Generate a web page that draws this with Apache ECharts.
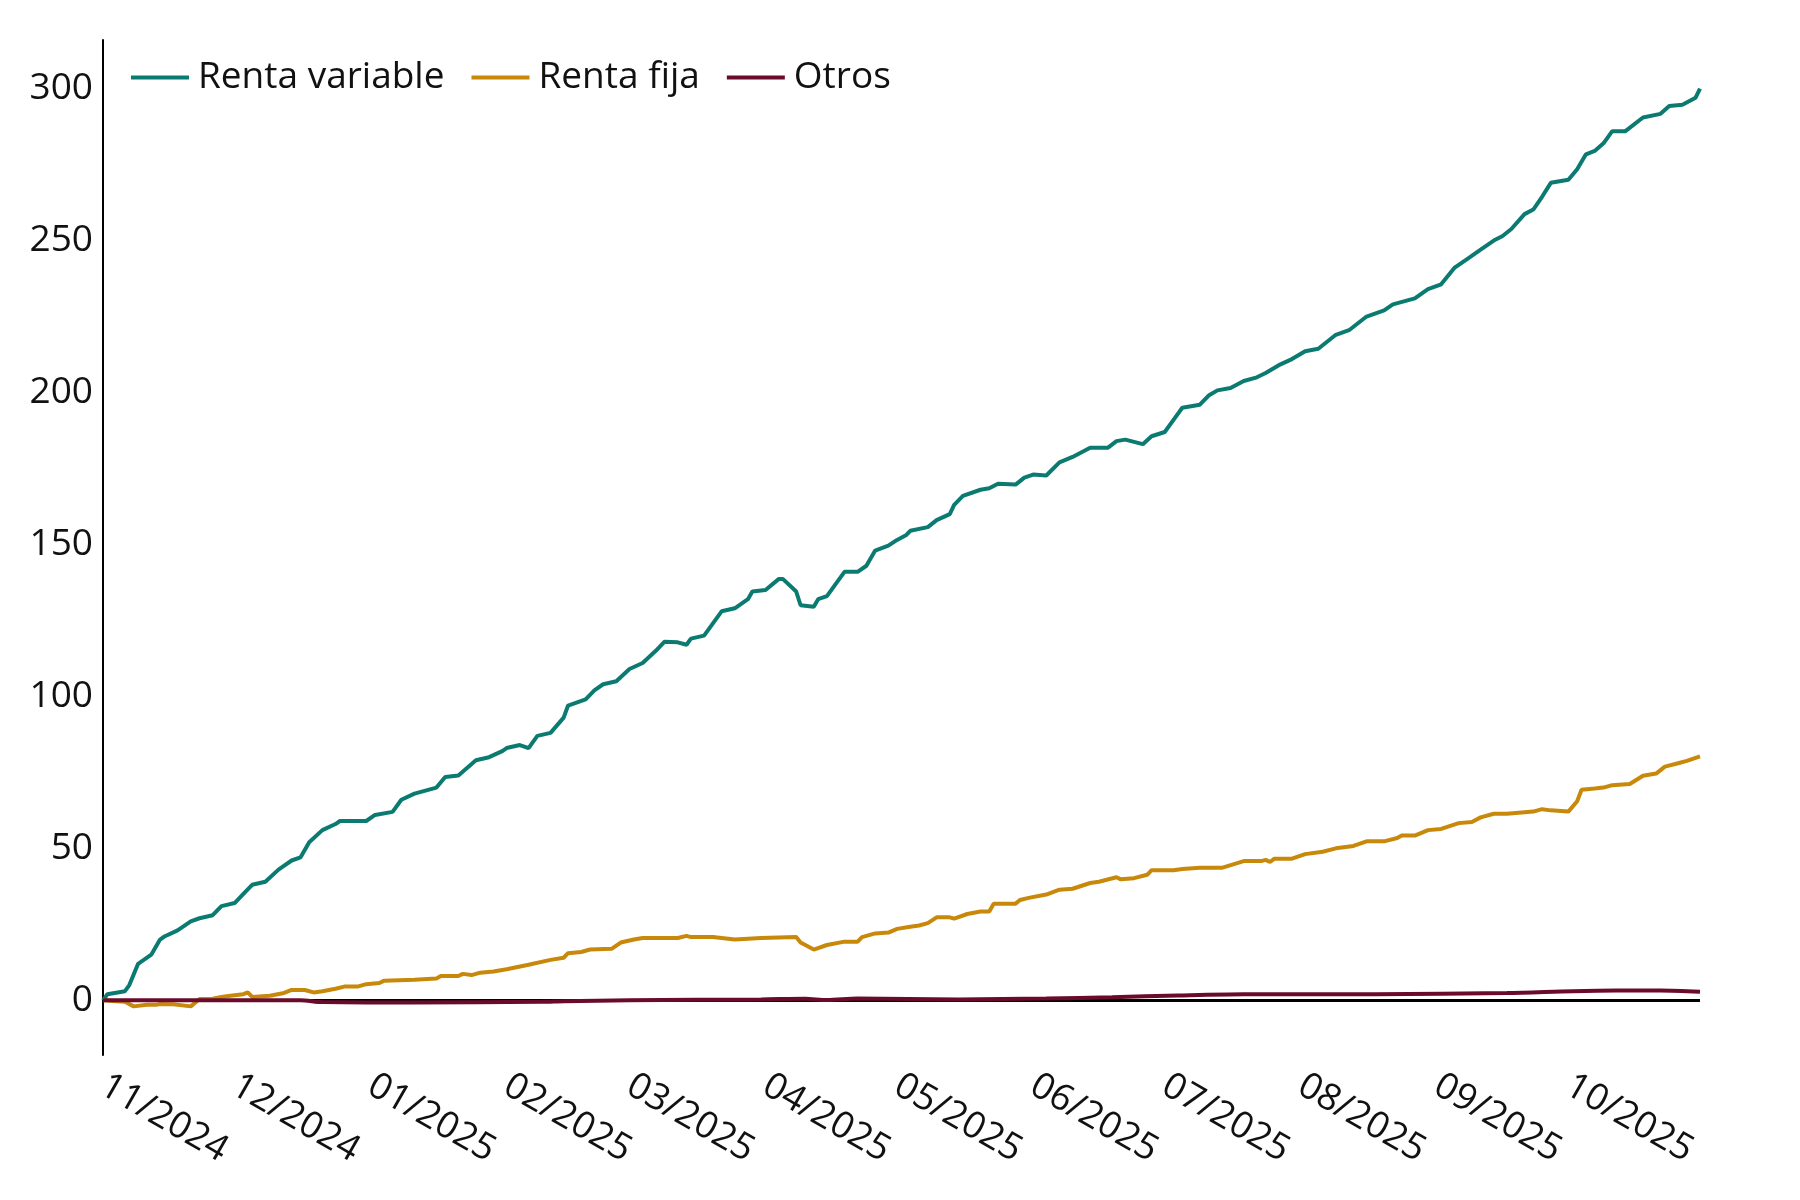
<!DOCTYPE html>
<html>
<head>
<meta charset="utf-8">
<title>Renta variable / Renta fija / Otros</title>
<script src="https://cdn.jsdelivr.net/npm/echarts@6/dist/echarts.min.js"></script>
<style>
  html, body { margin: 0; padding: 0; background: #fff; }
  #chart { width: 1800px; height: 1200px; }
</style>
</head>
<body>
<div id="chart"></div>
<script>
// Series names
var seriesNames = ['Renta variable', 'Renta fija', 'Otros'];

// Points as [days since 01/11/2024, value]
var rentaVariable = [
  [0, 0], [1, 2], [5, 3], [6, 5], [8, 12], [11, 15], [13, 20], [14, 21], [17, 23],
  [20, 26], [22, 27], [25, 28], [27, 31], [30, 32], [32, 35], [34, 38], [37, 39],
  [40, 43], [43, 46], [45, 47], [47, 52], [50, 56], [53, 58], [54, 59], [60, 59],
  [62, 61], [66, 62], [68, 66], [71, 68], [76, 70], [78, 73.5], [81, 74], [85, 79],
  [88, 80], [91, 82], [92, 83], [95, 84], [97, 83], [99, 87], [102, 88], [105, 93],
  [106, 97], [110, 99], [112, 102], [114, 104], [117, 105], [120, 109], [123, 111],
  [126, 115], [128, 118], [131, 117.8], [133, 117], [134, 119], [137, 120], [141, 128],
  [144, 129], [147, 132], [148, 134.5], [151, 135], [154, 138.6], [155, 138.6],
  [158, 134.5], [159, 130], [162, 129.5], [163, 132], [165, 133], [169, 141], [172, 141],
  [174, 143], [176, 148], [179, 149.6], [181, 151.5], [183, 153], [184, 154.5],
  [188, 155.7], [190, 158], [193, 160], [194, 163], [196, 166], [200, 168], [202, 168.5],
  [204, 170], [208, 169.7], [210, 172], [212, 173], [215, 172.7], [218, 177], [221, 178.8],
  [225, 181.8], [229, 181.8], [231, 184], [233, 184.5], [237, 183], [239, 185.6],
  [242, 187], [244, 191], [246, 195], [250, 196], [252, 199], [254, 200.7], [257, 201.5],
  [260, 203.8], [263, 205], [265, 206.4], [268, 209], [271, 211], [274, 213.6],
  [277, 214.4], [281, 219], [284, 220.5], [288, 225], [292, 227], [294, 229], [299, 231],
  [302, 234], [305, 235.6], [308, 241], [311, 244], [314, 247], [317, 250], [319, 251.5],
  [321, 253.8], [324, 258.7], [326, 260.2], [328, 264.4], [330, 269], [334, 270],
  [336, 273.5], [338, 278.4], [340, 279.5], [342, 282], [344, 286], [347, 286],
  [351, 290.5], [355, 291.7], [357, 294.3], [360, 294.7], [363, 297], [364, 300]
];

var rentaFija = [
  [0, 0], [3, -0.3], [5, -0.5], [7, -2], [10, -1.5], [12, -1.5], [13, -1.2], [16, -1.3],
  [20, -2], [22, 0.4], [25, 0.5], [27, 1.1], [29, 1.5], [32, 2], [33, 2.6], [34, 1.1],
  [38, 1.5], [41, 2.3], [43, 3.4], [46, 3.4], [48, 2.6], [50, 3], [53, 3.8], [55, 4.5],
  [58, 4.5], [60, 5.3], [63, 5.7], [64, 6.4], [71, 6.8], [76, 7.2], [77, 8], [81, 8],
  [82, 8.7], [84, 8.3], [86, 9.1], [89, 9.5], [92, 10.2], [97, 11.7], [102, 13.3],
  [105, 14], [106, 15.5], [109, 15.9], [111, 16.7], [116, 17], [118, 19], [121, 20],
  [123, 20.5], [131, 20.5], [133, 21.2], [134, 20.8], [139, 20.8], [144, 20],
  [150, 20.5], [158, 20.8], [159, 19], [162, 16.7], [165, 18.2], [169, 19.3], [172, 19.3],
  [173, 20.8], [176, 22], [179, 22.3], [181, 23.5], [184, 24.2], [186, 24.6], [188, 25.4],
  [190, 27.3], [193, 27.3], [194, 26.9], [197, 28.4], [200, 29.2], [202, 29.2],
  [203, 31.8], [208, 31.8], [209, 33], [211, 33.7], [215, 34.8], [218, 36.4], [221, 36.7],
  [225, 38.6], [227, 39], [231, 40.5], [232, 39.8], [235, 40.2], [238, 41.3], [239, 42.8],
  [244, 42.8], [246, 43.2], [250, 43.6], [255, 43.6], [260, 45.8], [264, 45.8],
  [265, 46.2], [266, 45.5], [267, 46.6], [271, 46.6], [274, 48.1], [278, 48.9], [281, 50],
  [285, 50.8], [288, 52.3], [292, 52.3], [295, 53.4], [296, 54.2], [299, 54.2], [302, 56],
  [305, 56.4], [309, 58.3], [312, 58.7], [314, 60.2], [317, 61.4], [320, 61.4],
  [326, 62.1], [328, 62.9], [330, 62.5], [334, 62.1], [336, 65.5], [337, 69.3],
  [340, 69.7], [342, 70], [344, 70.8], [348, 71.2], [351, 73.9], [354, 74.6], [356, 76.9],
  [359, 78], [361, 78.8], [364, 80.3]
];

var otros = [
  [0, 0], [20, 0], [45, 0], [50, -0.6], [70, -0.7], [100, -0.5], [105, -0.3], [120, 0],
  [150, 0.3], [160, 0.5], [165, 0.1], [172, 0.6], [195, 0.3], [215, 0.6], [230, 1],
  [245, 1.6], [260, 2], [290, 2], [320, 2.4], [335, 3], [345, 3.2], [355, 3.2], [364, 2.8]
];

var colors = ['#0b7b72', '#c8880a', '#6b0b2c'];
var fontFamily = '"Open Sans", Lato, sans-serif';
var fontSize = 37;

var toTime = function toTime(points) {
  return points.map(function (p) {
    return [new Date(2024, 10, 1 + p[0]).getTime(), p[1]];
  });
};

var chart = echarts.init(document.getElementById('chart'), null, { renderer: 'canvas' });

var lineSeries = function lineSeries(name, points, color, extra) {
  var s = {
    name: name,
    type: 'line',
    data: toTime(points),
    showSymbol: false,
    symbol: 'none',
    lineStyle: { color: color, width: 4 },
    itemStyle: { color: color },
    animation: false
  };
  return Object.assign(s, extra || {});
};

chart.setOption({
  color: colors,
  textStyle: { fontFamily: fontFamily },
  grid: { left: 103, right: 100, top: 40, bottom: 145, outerBoundsMode: 'none' },
  legend: {
    left: 126,
    top: 54,
    icon: 'rect',
    itemWidth: 58,
    itemHeight: 4,
    itemGap: 27,
    textStyle: { fontSize: fontSize, color: '#111', fontFamily: fontFamily, padding: [0, 0, 0, 4] },
    data: seriesNames
  },
  xAxis: {
    type: 'time',
    min: new Date(2024, 10, 1).getTime(),
    max: new Date(2025, 9, 31).getTime(),
    splitNumber: 12,
    axisLine: { show: false },
    axisTick: { show: false },
    splitLine: { show: false },
    axisLabel: {
      rotate: -30,
      margin: 28,
      fontSize: fontSize,
      color: '#111',
      fontFamily: fontFamily,
      showMaxLabel: false,
      formatter: '{MM}/{yyyy}'
    }
  },
  yAxis: {
    type: 'value',
    min: -18,
    max: 316,
    axisLine: { show: true, lineStyle: { color: '#000', width: 2 } },
    axisTick: { show: false },
    splitLine: { show: false },
    axisLabel: {
      fontSize: fontSize,
      color: '#111',
      margin: 10,
      fontFamily: fontFamily,
      showMinLabel: false,
      showMaxLabel: false
    }
  },
  series: [
    lineSeries(seriesNames[0], rentaVariable, colors[0], {
      markLine: {
        silent: true,
        symbol: 'none',
        z: 1,
        label: { show: false },
        lineStyle: { color: '#000', width: 3, type: 'solid' },
        data: [{ yAxis: 0 }]
      }
    }),
    lineSeries(seriesNames[1], rentaFija, colors[1]),
    lineSeries(seriesNames[2], otros, colors[2], { smooth: 0.3, z: 3 })
  ]
});
</script>
</body>
</html>
